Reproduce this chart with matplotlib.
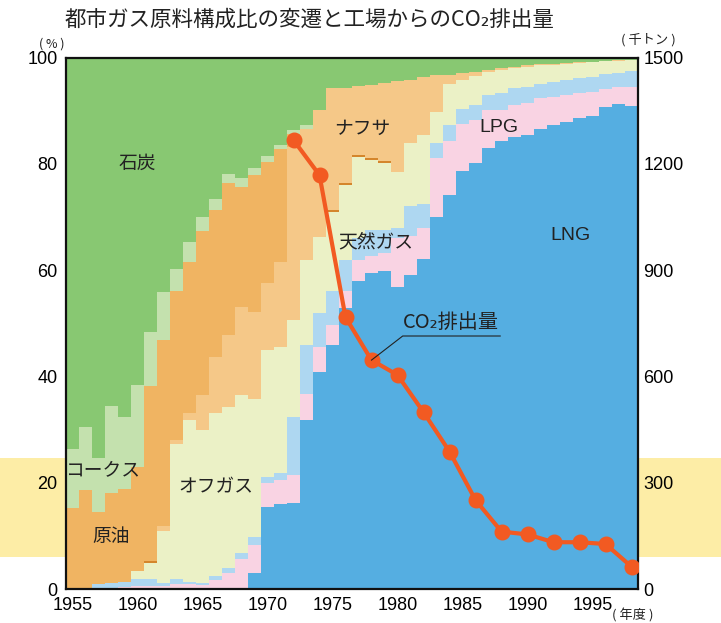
import numpy as np
import matplotlib
matplotlib.use("Agg")
import matplotlib.pyplot as plt
from matplotlib.patches import Rectangle

plt.rcParams['font.family'] = ['Noto Sans CJK JP', 'DejaVu Sans']

years = list(range(1955, 1999))

# 原料構成比 (%), bottom to top
lng = [0, 0, 0, 0, 0, 0, 0, 0, 0, 0, 0, 0, 0, 0, 3.0, 15.5, 16.0, 16.2, 31.8, 40.9,
       45.9, 52.8, 58.0, 59.5, 59.9, 56.9, 59.1, 62.0, 70.0, 74.1, 78.7, 80.2, 82.9, 84.2,
       85.0, 85.4, 86.5, 87.3, 87.9, 88.6, 88.9, 90.6, 91.3, 90.9]
lpg = [0, 0, 0, 0, 0.4, 0.5, 0.5, 0.6, 1.0, 0.9, 0.7, 1.7, 3.1, 5.6, 5.2, 4.4, 4.6, 5.2, 4.9, 4.7,
       3.8, 3.3, 3.9, 3.2, 3.3, 9.1, 7.4, 6.0, 11.0, 10.1, 8.8, 8.0, 7.2, 5.9,
       6.1, 6.0, 5.8, 5.3, 5.0, 4.8, 4.7, 3.4, 3.1, 3.5]
natgas = [0, 0, 1.0, 1.1, 1.0, 1.4, 1.4, 0.5, 0.9, 0.4, 0.5, 0.8, 0.9, 1.2, 1.5, 1.2, 1.2, 11.0, 9.3, 6.4,
          6.4, 5.8, 4.1, 4.8, 4.3, 2.0, 5.5, 4.5, 3.0, 3.1, 2.9, 2.9, 2.8, 3.2,
          3.1, 3.1, 2.8, 2.8, 2.9, 2.7, 2.8, 2.9, 2.7, 3.1]
offgas = [0, 0, 0, 0, 0, 1.5, 2.9, 9.9, 25.4, 30.5, 28.7, 30.6, 30.3, 29.7, 26.0, 23.9, 23.7, 18.2, 15.9, 14.3,
          14.9, 14.1, 15.2, 13.2, 12.7, 10.5, 11.9, 12.9, 5.8, 7.8, 5.4, 5.5, 4.3, 4.3,
          3.8, 3.7, 3.4, 3.2, 3.0, 2.9, 2.7, 2.4, 2.3, 2.0]
other = [0, 0, 0, 0, 0, 0, 0.4, 0, 0, 0, 0, 0, 0, 0, 0, 0, 0, 0, 0, 0,
         0.4, 0.4, 0.4, 0.4, 0.4, 0, 0, 0, 0, 0, 0, 0, 0, 0,
         0, 0, 0, 0, 0, 0, 0, 0, 0, 0]
naphtha = [0, 0, 0, 0, 0, 0, 0, 0.9, 0.7, 1.4, 6.6, 10.5, 13.4, 16.5, 16.5, 12.5, 16.1, 32.6, 24.6, 23.8,
           22.8, 17.8, 13.0, 13.7, 14.6, 17.0, 11.8, 10.9, 7.0, 1.6, 1.2, 0.7, 0.5, 0.4,
           0.3, 0.3, 0.2, 0.2, 0.1, 0.1, 0.1, 0.1, 0.1, 0.1]
crude = [15.2, 18.6, 13.4, 16.9, 17.4, 19.6, 32.9, 34.9, 28.1, 28.4, 30.9, 27.7, 28.6, 22.7, 25.7, 22.9, 21.1, 2.5, 0, 0,
         0, 0, 0, 0, 0, 0, 0, 0, 0, 0, 0, 0, 0, 0,
         0, 0, 0, 0, 0, 0, 0, 0, 0, 0]
coke = [11.1, 11.9, 10.2, 16.4, 13.6, 15.4, 10.3, 9.0, 4.1, 3.6, 2.6, 2.1, 1.8, 1.6, 1.4, 1.0, 0.8, 0.7, 0.8, 0,
        0, 0, 0, 0, 0, 0, 0, 0, 0, 0, 0, 0, 0, 0,
        0, 0, 0, 0, 0, 0, 0, 0, 0, 0]
coal = [73.7, 69.5, 75.4, 65.6, 67.6, 61.6, 51.6, 44.2, 39.8, 34.8, 30.0, 26.6, 21.9, 22.7, 20.7, 18.6, 16.5, 13.6, 12.7, 9.9,
        5.8, 5.8, 5.4, 5.2, 4.8, 4.5, 4.3, 3.7, 3.2, 3.3, 3.0, 2.7, 2.3, 2.0,
        1.7, 1.5, 1.3, 1.2, 1.1, 0.9, 0.8, 0.6, 0.5, 0.4]

# 工場からのCO2排出量 (千トン)
co2_years = [1972, 1974, 1976, 1978, 1980, 1982, 1984, 1986, 1988, 1990, 1992, 1994, 1996, 1998]
co2 = [1267, 1168, 767, 646, 604, 499, 388, 251, 162, 154, 132, 132, 127, 63]

layers = [
    (lng, '#55AEE1'),
    (lpg, '#F9D3E3'),
    (natgas, '#AED7F1'),
    (offgas, '#EBF1C6'),
    (other, '#D4862C'),
    (naphtha, '#F5C888'),
    (crude, '#F0B462'),
    (coke, '#C4E1AE'),
    (coal, '#88C872'),
]

fig = plt.figure(figsize=(7.21, 6.23), dpi=100)
band = Rectangle((0, 1 - 557 / 623), 1, 99 / 623, transform=fig.transFigure,
                 facecolor='#FDEDA6', edgecolor='none', zorder=-10)
fig.patches.append(band)

ax = fig.add_axes([66 / 721, 1 - 589 / 623, 572 / 721, 531.5 / 623])
ax.set_facecolor('#88C872')

edges = np.arange(years[0] - 0.5, years[-1] + 1.0, 1.0)
base = np.zeros(len(years))
for vals, col in layers:
    v = np.array(vals, dtype=float)
    ax.stairs(base + v, edges, baseline=base, fill=True, color=col, linewidth=0)
    base = base + v

ax.set_xlim(1954.5, 1998.5)
ax.set_ylim(0, 100)
ax.set_xticks(range(1955, 1996, 5))
ax.set_yticks(range(0, 101, 20))
ax.tick_params(length=0, labelsize=13, pad=6)
for lab in ax.get_xticklabels() + ax.get_yticklabels():
    lab.set_family('Liberation Sans')
for s in ax.spines.values():
    s.set_linewidth(1.6)
    s.set_color('#111111')

ax2 = ax.twinx()
ax2.set_ylim(0, 1500)
ax2.set_yticks(range(0, 1501, 300))
ax2.tick_params(length=0, labelsize=13, pad=4)
for lab in ax2.get_yticklabels():
    lab.set_family('Liberation Sans')
ax2.plot(co2_years, co2, color='#F25A22', lw=3, marker='o', markersize=10.5,
         solid_capstyle='round', zorder=5)
for s in ax2.spines.values():
    s.set_visible(False)

# leader from the 1978 point to the underlined label
ax2.plot([1978, 1980.4, 1987.9], [646, 714, 714], color='#222222', lw=0.8, zorder=6)
ax2.text(1984.1, 722, 'CO₂排出量', ha='center', va='bottom', fontsize=14.5, color='#222222',
         family=['Noto Sans CJK JP', 'DejaVu Sans'])

lbl = dict(fontsize=13.5, color='#222222', ha='center', va='center')
ax.text(1960.0, 80.0, '石炭', **lbl)
ax.text(1977.3, 86.7, 'ナフサ', **lbl)
ax.text(1987.8, 86.9, 'LPG', family='Liberation Sans', fontsize=14, color='#222222', ha='center', va='center')
ax.text(1993.3, 66.6, 'LNG', family='Liberation Sans', fontsize=14, color='#222222', ha='center', va='center')
ax.text(1978.3, 65.3, '天然ガス', **lbl)
ax.text(1957.3, 22.5, 'コークス', **lbl)
ax.text(1966.0, 19.3, 'オフガス', **lbl)
ax.text(1958.0, 9.8, '原油', **lbl)

fig.text(65 / 721, 1 - 20 / 623, '都市ガス原料構成比の変遷と工場からのCO₂排出量', fontsize=15.5,
         ha='left', va='center', color='#222222')
fig.text(52 / 721, 1 - 44 / 623, '( % )', fontsize=9, ha='center', va='center', color='#222222')
fig.text(648 / 721, 1 - 40 / 623, '( 千トン )', fontsize=9.5, ha='center', va='center', color='#222222')
fig.text(633 / 721, 1 - 615 / 623, '( 年度 )', fontsize=9.5, ha='center', va='center', color='#222222')

fig.savefig('out.png', dpi=100)
